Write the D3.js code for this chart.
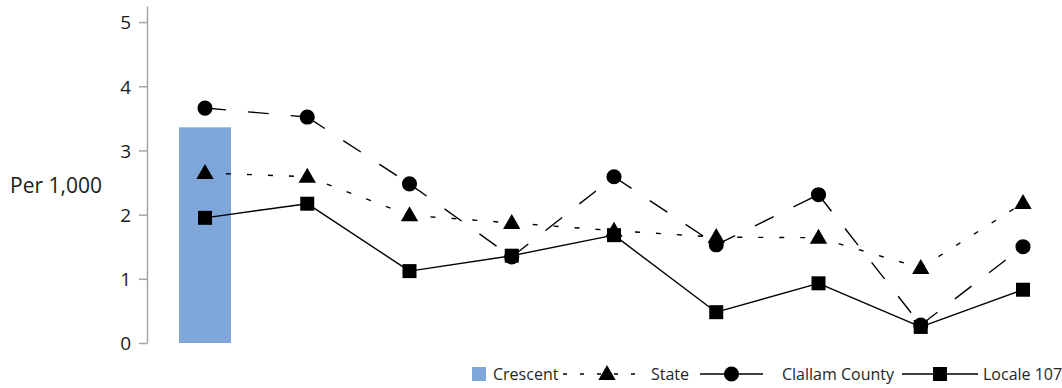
<!DOCTYPE html>
<html lang="en">
<head>
  <meta charset="UTF-8" />
  <title>Per 1,000</title>
  <script src="https://d3js.org/d3.v7.min.js"></script>
  <style>
    body { margin: 0; background: #fff; font-family: "Open Sans", sans-serif; }
    .tick text { font-size: 19px; fill: #1a1a1a; font-family: "Open Sans", sans-serif; }
    .tick line, .domain { stroke: #a6a6a6; stroke-width: 1.5; }
    .legend text { font-size: 16px; fill: #262626; }
  </style>
</head>
<body>
<svg width="1062" height="388"></svg>
<script>
  const categories = ["1", "2", "3", "4", "5", "6", "7", "8", "9"];
  const crescent = [3.36, null, null, null, null, null, null, null, null];
  const state = [2.65, 2.59, 1.99, 1.87, 1.75, 1.65, 1.64, 1.17, 2.18];
  const clallam = [3.66, 3.52, 2.48, 1.34, 2.59, 1.53, 2.31, 0.28, 1.50];
  const locale = [1.95, 2.17, 1.12, 1.36, 1.68, 0.48, 0.93, 0.25, 0.83];
  const yTicks = [0, 1, 2, 3, 4, 5];

  const svg = d3.select("svg");

  const x = d3.scalePoint().domain(categories).range([205, 1023]);
  const y = d3.scaleLinear().domain([0, 5.25]).range([343, 6]);

  // axe vertical
  svg.append("g")
     .attr("transform", "translate(147,0)")
     .call(d3.axisLeft(y).tickValues(yTicks).tickFormat(d3.format("d"))
             .tickSize(8).tickSizeOuter(0).tickPadding(8))
     .call(g => g.selectAll(".tick text").attr("dy", "0.36em"));

  svg.append("text")
     .attr("x", 10).attr("y", 193)
     .attr("font-size", 21).attr("fill", "#1a1a1a")
     .text("Per 1,000");

  // barres Crescent
  const barW = 52;
  svg.selectAll("rect.bar")
     .data(categories.map((c, i) => ({c, v: crescent[i]})).filter(d => d.v != null))
     .enter().append("rect")
     .attr("class", "bar")
     .attr("x", d => x(d.c) - barW / 2)
     .attr("y", d => y(d.v))
     .attr("width", barW)
     .attr("height", d => y(0) - y(d.v))
     .attr("fill", "#7ea6d9");

  const series = [
    {name: "State", values: state, dash: "5,16", symbol: d3.symbolTriangle, size: 130},
    {name: "Clallam County", values: clallam, dash: "21,22", symbol: d3.symbolCircle, size: 180},
    {name: "Locale 107", values: locale, dash: null, symbol: d3.symbolSquare, size: 196}
  ];

  series.forEach(s => {
    const pts = s.values.map((v, i) => [x(categories[i]), y(v)]);
    // un segment par paire pour que les tirets repartent de chaque point
    d3.pairs(pts).forEach(([a, b]) => {
      svg.append("line")
         .attr("x1", a[0]).attr("y1", a[1])
         .attr("x2", b[0]).attr("y2", b[1])
         .attr("stroke", "#000").attr("stroke-width", 1.4)
         .attr("stroke-dasharray", s.dash);
    });
  });

  series.forEach(s => {
    svg.selectAll(null)
       .data(s.values)
       .enter().append("path")
       .attr("d", d3.symbol().type(s.symbol).size(s.size))
       .attr("transform", (d, i) => `translate(${x(categories[i])},${y(d) + (s.symbol === d3.symbolTriangle ? 1 : 0)})`)
       .attr("fill", "#000");
  });

  // légende
  const legend = svg.append("g").attr("class", "legend");
  const ly = 374;
  legend.append("rect").attr("x", 472).attr("y", ly - 7).attr("width", 14).attr("height", 14).attr("fill", "#7ea6d9");
  legend.append("text").attr("x", 493).attr("y", ly + 6).text("Crescent");

  const items = [
    {s: series[0], x0: 563, x1: 641, tx: 651, dash: "4,13"},
    {s: series[1], x0: 700, x1: 763, tx: 782, dash: null},
    {s: series[2], x0: 902, x1: 978, tx: 983, dash: null}
  ];
  items.forEach(it => {
    const cx = (it.x0 + it.x1) / 2;
    legend.append("line")
          .attr("x1", it.x0).attr("x2", it.x1).attr("y1", ly).attr("y2", ly)
          .attr("stroke", "#000").attr("stroke-width", 1.4)
          .attr("stroke-dasharray", it.dash);
    legend.append("path")
          .attr("d", d3.symbol().type(it.s.symbol).size(it.s.size))
          .attr("transform", `translate(${it.s.name === "State" ? 607 : cx},${ly + (it.s.symbol === d3.symbolTriangle ? 1 : 0)})`)
          .attr("fill", "#000");
    legend.append("text").attr("x", it.tx).attr("y", ly + 6).text(it.s.name);
  });
</script>
</body>
</html>
